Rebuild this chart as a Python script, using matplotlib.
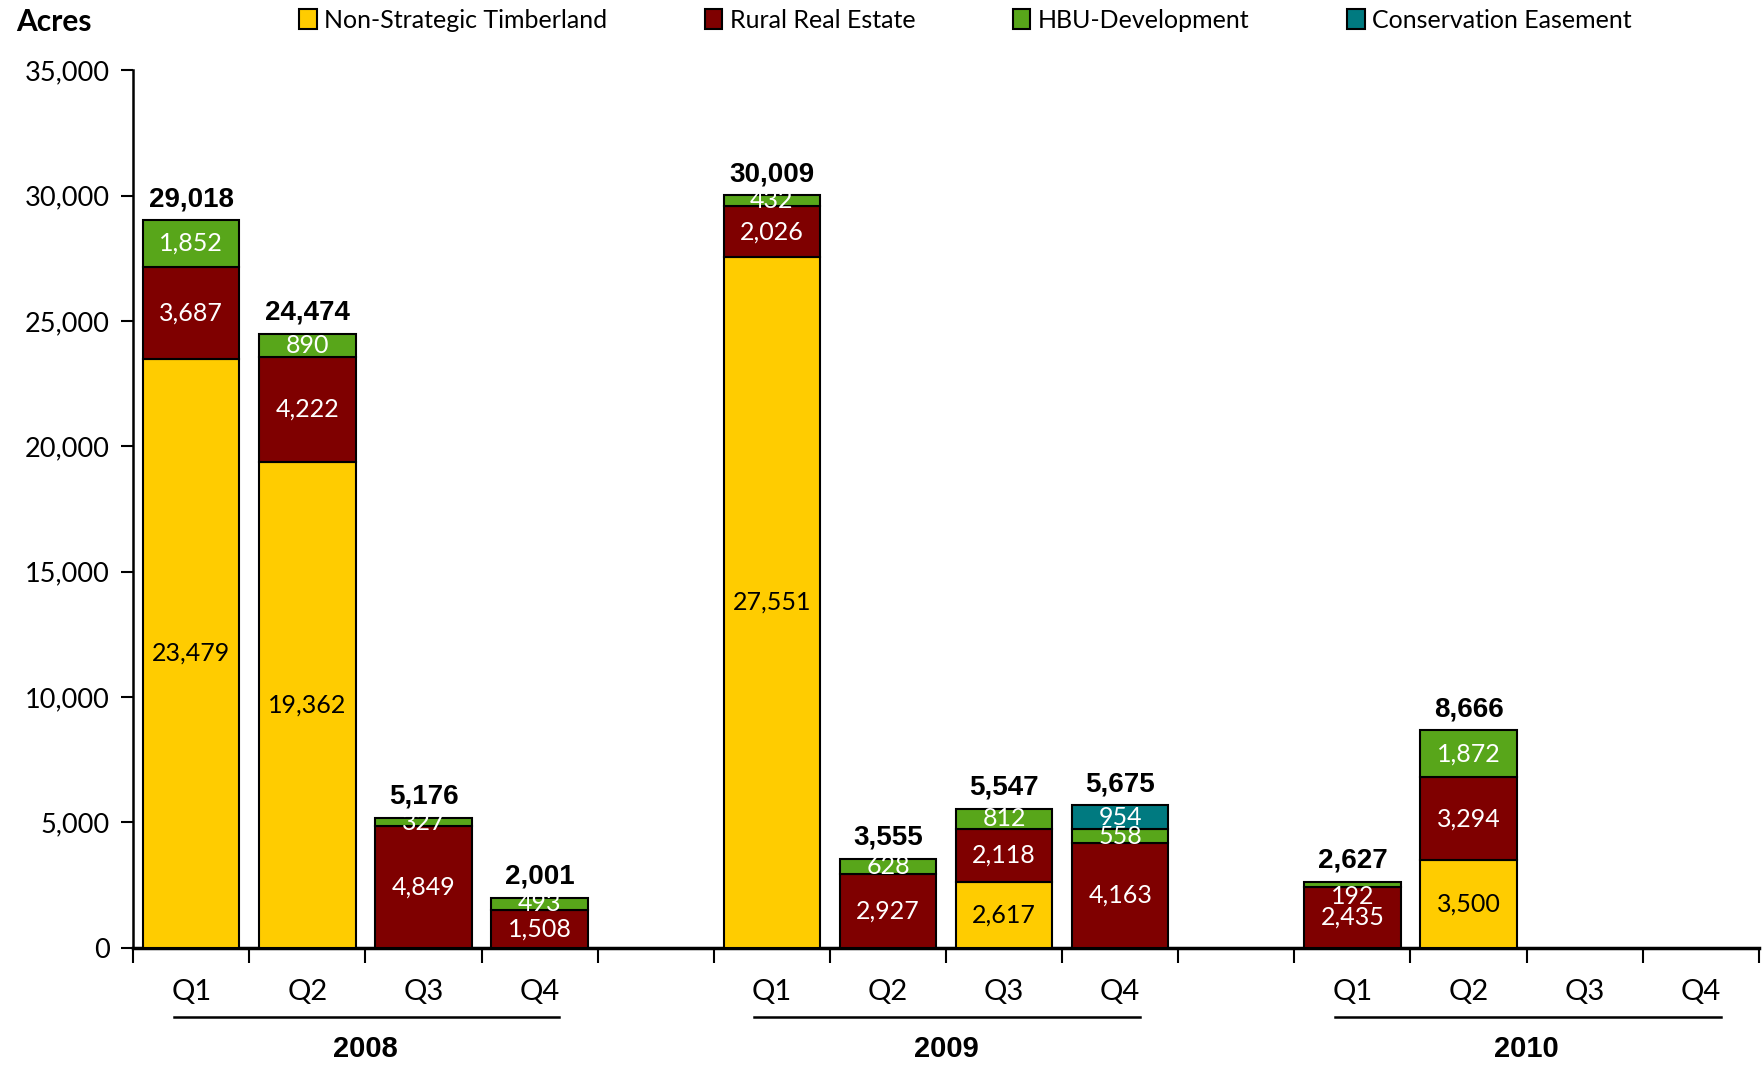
import matplotlib
matplotlib.use('Agg')
import matplotlib.pyplot as plt
import numpy as np
from matplotlib.patches import Patch
from matplotlib.ticker import FuncFormatter

# quarterly acres sold by category, blank slots separate the years
quarters = ['Q1', 'Q2', 'Q3', 'Q4', '', 'Q1', 'Q2', 'Q3', 'Q4', '', 'Q1', 'Q2', 'Q3', 'Q4']
years = ['2008', '2009', '2010']
timberland = [23479, 19362, 0, 0, 0, 27551, 0, 2617, 0, 0, 0, 3500, 0, 0]
rural = [3687, 4222, 4849, 1508, 0, 2026, 2927, 2118, 4163, 0, 2435, 3294, 0, 0]
hbu = [1852, 890, 327, 493, 0, 432, 628, 812, 558, 0, 192, 1872, 0, 0]
conservation = [0, 0, 0, 0, 0, 0, 0, 0, 954, 0, 0, 0, 0, 0]
totals = [29018, 24474, 5176, 2001, 0, 30009, 3555, 5547, 5675, 0, 2627, 8666, 0, 0]

series = [
    ('Non-Strategic Timberland', timberland, '#FFCC00', 'black'),
    ('Rural Real Estate', rural, '#7F0000', 'white'),
    ('HBU-Development', hbu, '#58A61A', 'white'),
    ('Conservation Easement', conservation, '#007A80', 'white'),
]

body_font = 'Lato'
bold_font = 'Liberation Sans'

fig = plt.figure(figsize=(17.65, 10.66), dpi=100)
ax = fig.add_axes([0.0755, 0.111, 0.921, 0.823])

x = np.arange(len(quarters))
width = 0.83
bottom = np.zeros(len(quarters))
for name, vals, color, txt in series:
    vals = np.array(vals, dtype=float)
    m = vals > 0
    ax.bar(x[m], vals[m], width, bottom=bottom[m], color=color,
           edgecolor='black', linewidth=1.5, zorder=3)
    for xi, v, b in zip(x[m], vals[m], bottom[m]):
        yc = b + v / 2
        if v < 300:
            yc = b - 380
        ax.text(xi, yc, '{:,}'.format(int(v)), ha='center', va='center',
                color=txt, fontsize=18, family=body_font, zorder=4)
    bottom += vals

for xi, t in zip(x, totals):
    if t > 0:
        ax.text(xi, t + 330, '{:,}'.format(t), ha='center', va='bottom',
                fontsize=20, fontweight='bold', family=bold_font)

ax.set_xlim(-0.5, len(quarters) - 0.5)
ax.set_ylim(0, 35000)
ax.set_yticks(np.arange(0, 35001, 5000))
ax.yaxis.set_major_formatter(FuncFormatter(lambda v, p: '{:,}'.format(int(v))))
ax.set_xticks(np.arange(-0.5, len(quarters), 1.0))
ax.set_xticklabels([])
ax.tick_params(axis='x', direction='out', length=11, width=1.5)
ax.tick_params(axis='y', direction='out', length=9, width=1.5, labelsize=19.5, pad=8)
for lab in ax.get_yticklabels():
    lab.set_family(body_font)

for s in ['top', 'right']:
    ax.spines[s].set_visible(False)
ax.spines['left'].set_linewidth(1.8)
ax.spines['bottom'].set_linewidth(2.5)

trans = ax.get_xaxis_transform()
for xi, q in zip(x, quarters):
    if q:
        ax.text(xi, -0.05, q, transform=trans, ha='center', va='center',
                fontsize=21, family=body_font, clip_on=False)

# year group underlines and labels
group_starts = [0, 5, 10]
for g, yr in zip(group_starts, years):
    ax.plot([g - 0.15, g + 3.17], [-0.079, -0.079], transform=trans,
            color='black', linewidth=1.8, clip_on=False)
    ax.text(g + 1.5, -0.116, yr, transform=trans, ha='center', va='center',
            fontsize=21, fontweight='bold', family=bold_font, clip_on=False)

fig.text(0.009, 0.979, 'Acres', fontsize=21.5, fontweight='bold', family=body_font,
         ha='left', va='center')

handles = [Patch(facecolor=c, edgecolor='black', linewidth=1.5, label=n)
           for n, _, c, _ in series]
fig.legend(handles=handles, loc='center', bbox_to_anchor=(0.547, 0.981), ncol=4,
           frameon=False, handlelength=0.7, handleheight=0.85, handletextpad=0.3,
           columnspacing=3.9, prop={'family': body_font, 'size': 18})

fig.savefig('out.png', dpi=100)
